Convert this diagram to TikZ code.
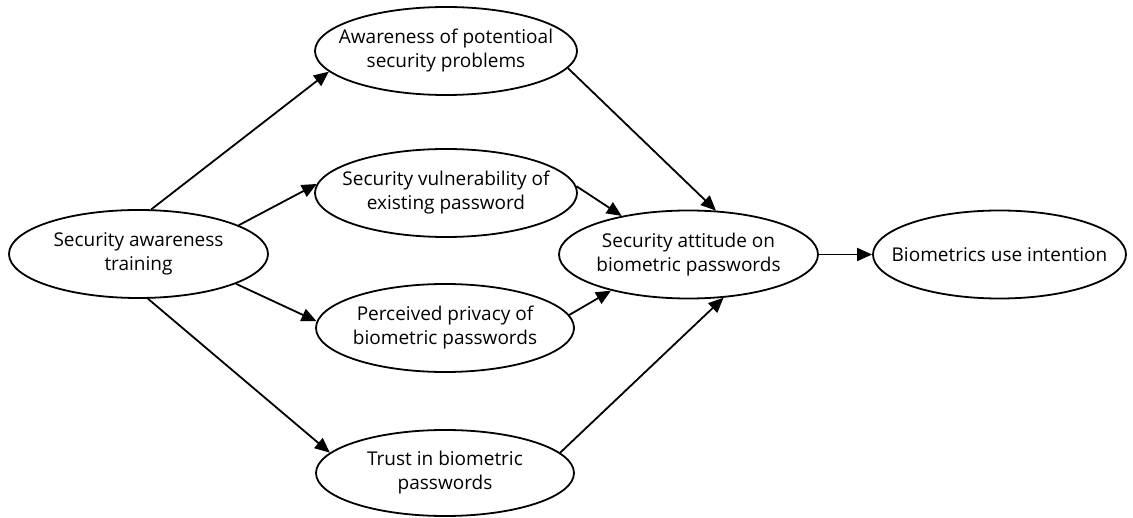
\documentclass[tikz,border=0pt]{standalone}
\usepackage{fontspec}
\setmainfont{Open Sans}
\usepackage{tikz}
\usetikzlibrary{arrows.meta, shapes.geometric}

\begin{document}
\begin{tikzpicture}[x=1pt, y=-1pt,
    construct/.style={draw, ellipse, line width=1.8pt, align=center, inner xsep=-30pt, inner ysep=0pt,
      font=\fontsize{19}{24}\selectfont, minimum height=88pt},
    path/.style={-{Triangle[length=15pt, width=13pt]}, line width=1.8pt}]
          \useasboundingbox (0,0) rectangle (1133,518);
          \node[construct, minimum width=259pt] (SAT) at (138.5,254) {Security awareness\\training};
          \node[construct, minimum width=262pt] (AW) at (446,51) {Awareness of potentioal\\security problems};
          \node[construct, minimum width=262pt] (VUL) at (446,193) {Security vulnerability of\\existing password};
          \node[construct, minimum width=258pt] (PRIV) at (445,328) {Perceived privacy of\\biometric passwords};
          \node[construct, minimum width=258pt, minimum height=86pt] (TRUST) at (445,473) {Trust in biometric\\passwords};
          \node[construct, minimum width=259pt] (ATT) at (688.5,254.5) {Security attitude on\\biometric passwords};
          \node[construct, minimum width=253pt] (BIU) at (999.5,254.5) {Biometrics use intention};

          \draw[path] (SAT.74.7) -- (AW.190.3);
          \draw[path] (SAT.16.4) -- (VUL.176.5);
          \draw[path] (SAT.-17.5) -- (PRIV.177.3);
          \draw[path] (SAT.-78.3) -- (TRUST.170.5);
          \draw[path] (AW.-8.1) -- (ATT.58.4);
          \draw[path] (VUL.3.5) -- (ATT.150.4);
          \draw[path] (PRIV.6) -- (ATT.205.3);
          \draw[path] (TRUST.10) -- (ATT.309.3);
          \draw[path] (ATT) -- (BIU);
        \end{tikzpicture}
\end{document}
